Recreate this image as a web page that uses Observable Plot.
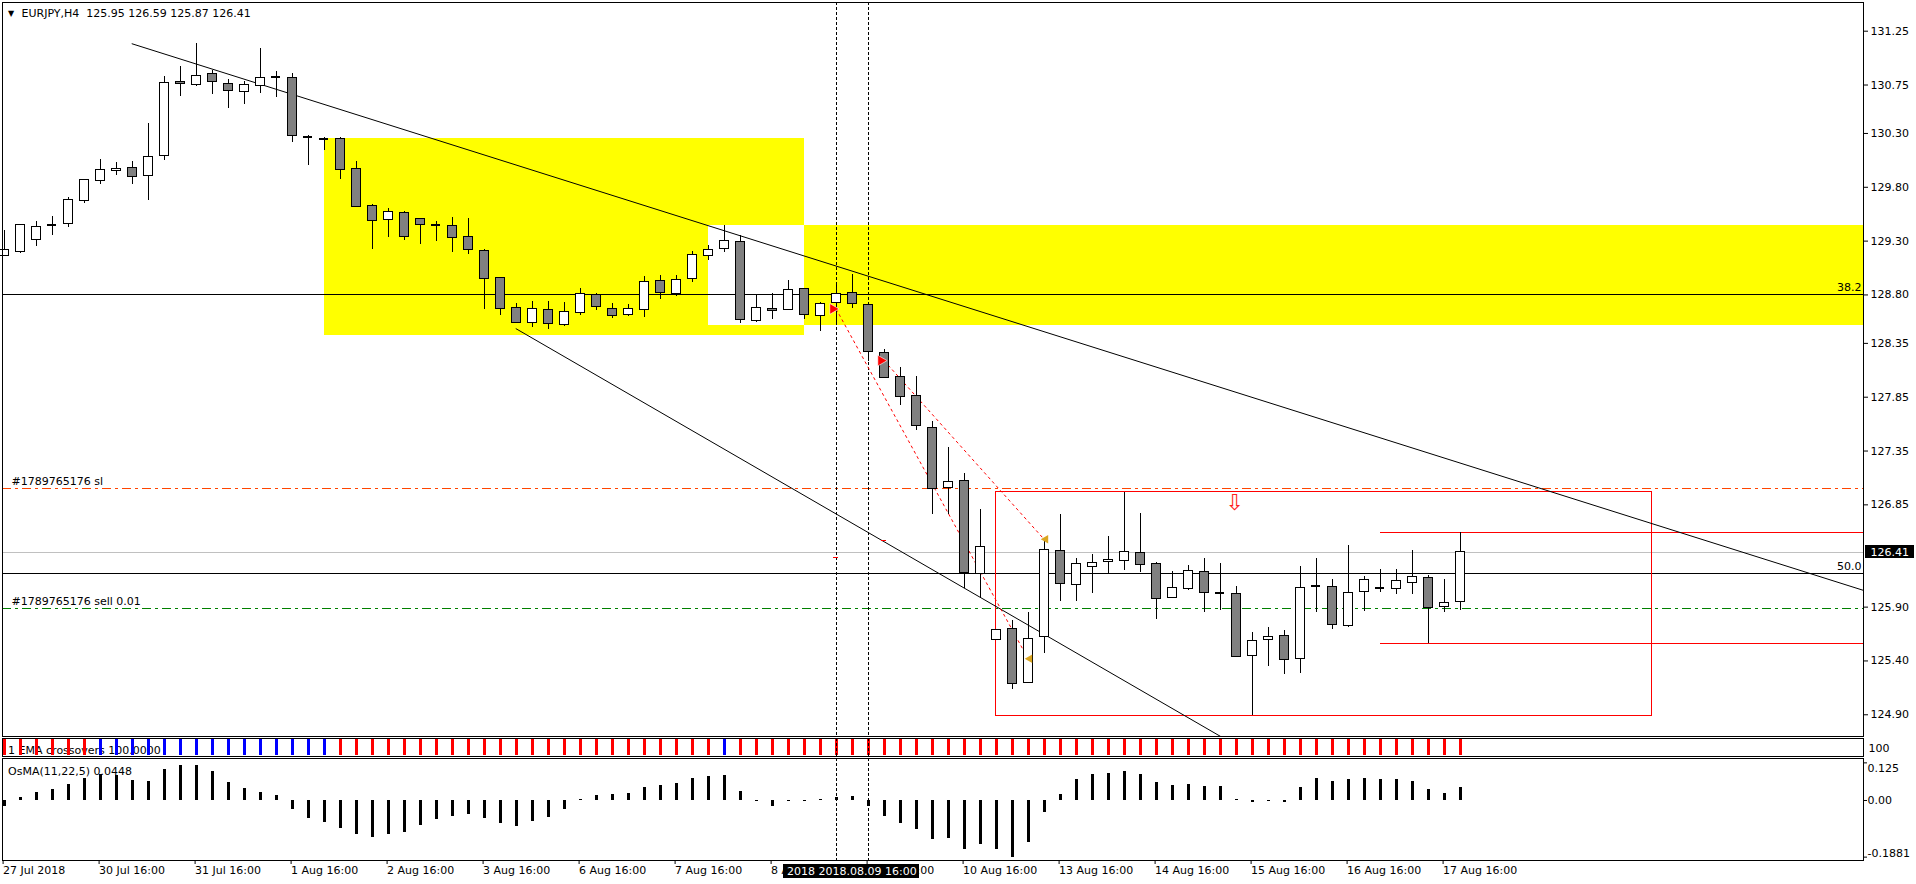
<!DOCTYPE html>
<html><head><meta charset="utf-8">
<script src="https://cdn.jsdelivr.net/npm/d3@7"></script>
<script src="https://cdn.jsdelivr.net/npm/@observablehq/plot@0.6"></script>
<style>
body{margin:0;background:#fff;}
#chart{position:relative;width:1916px;height:884px;overflow:hidden;background:#fff;}
#chart svg{position:absolute;left:0;}
</style></head><body><div id="chart"></div>
<script>
// ---------- DATA ----------
const symbolTitle = "EURJPY,H4  125.95 126.59 125.87 126.41";
const opens = [129.160,129.200,129.312,129.448,129.461,129.671,129.860,129.953,129.981,129.907,
130.089,130.780,130.752,130.854,130.761,130.687,130.743,130.826,130.817,130.263,
130.244,130.250,129.972,129.628,129.498,129.563,129.504,129.448,129.439,129.340,
129.210,128.959,128.677,128.541,128.661,128.518,128.634,128.800,128.670,128.614,
128.661,128.929,128.807,128.949,129.162,129.228,129.291,128.558,128.670,128.661,
128.856,128.604,128.727,128.817,128.707,128.259,128.036,127.860,127.561,127.007,
127.070,126.210,125.596,125.698,125.197,125.624,126.423,126.107,126.274,126.321,
126.330,126.404,126.302,125.986,126.070,126.228,126.027,126.024,125.448,125.596,
125.633,125.420,126.095,126.088,125.726,126.042,126.079,126.070,126.126,126.172,
125.903,125.95];
const highs = [129.399,129.451,129.482,129.529,129.702,129.869,130.058,130.030,130.040,130.393,
130.826,130.922,131.136,130.882,130.801,130.786,131.089,130.873,130.854,130.278,
130.266,130.266,130.040,129.643,129.603,129.572,129.504,129.482,129.516,129.507,
129.225,128.959,128.717,128.737,128.737,128.727,128.860,128.810,128.720,128.707,
128.969,128.979,128.979,129.208,129.258,129.441,129.354,128.800,128.810,128.933,
128.856,128.734,128.903,128.993,128.707,128.292,128.123,128.040,127.621,127.379,
127.140,126.808,125.689,125.776,125.847,126.507,126.757,126.349,126.386,126.556,
126.968,126.770,126.311,126.231,126.283,126.349,126.302,126.088,125.661,125.708,
125.680,126.274,126.349,126.153,126.469,126.181,126.246,126.246,126.423,126.191,
126.154,126.59];
const lows = [129.160,129.182,129.253,129.355,129.430,129.653,129.829,129.913,129.829,129.680,
130.052,130.647,130.739,130.665,130.535,130.572,130.674,130.637,130.219,130.006,
130.145,129.876,129.619,129.225,129.337,129.309,129.266,129.300,129.191,129.173,
128.662,128.611,128.534,128.495,128.481,128.504,128.611,128.651,128.578,128.597,
128.587,128.760,128.790,128.916,129.122,129.195,128.534,128.548,128.574,128.651,
128.568,128.461,128.528,128.677,128.179,128.020,127.774,127.545,126.761,126.761,
126.071,125.991,125.596,125.132,125.187,125.466,125.955,125.955,126.030,126.209,
126.243,126.225,125.788,125.977,126.051,125.847,125.866,125.429,124.893,125.345,
125.271,125.280,125.847,125.689,125.708,125.856,126.033,126.014,126.014,125.559,
125.847,125.87];
const closes = [129.213,129.451,129.433,129.448,129.684,129.869,129.962,129.972,129.897,130.083,
130.770,130.761,130.835,130.777,130.696,130.752,130.817,130.826,130.278,130.263,
130.244,129.962,129.619,129.488,129.572,129.340,129.451,129.448,129.331,129.219,
128.950,128.671,128.544,128.670,128.528,128.641,128.810,128.687,128.604,128.670,
128.920,128.817,128.939,129.172,129.218,129.301,128.568,128.680,128.651,128.846,
128.614,128.714,128.807,128.717,128.269,128.030,127.850,127.581,127.000,127.060,
126.213,126.459,125.689,125.187,125.605,126.432,126.116,126.302,126.311,126.339,
126.414,126.293,125.977,126.079,126.237,126.033,126.027,125.438,125.587,125.624,
125.410,126.079,126.095,125.735,126.033,126.154,126.079,126.144,126.181,125.893,
125.940,126.41];
const osmaValues = [-0.019,0.009,0.027,0.037,0.053,0.073,0.086,0.082,0.066,0.063,
0.103,0.116,0.116,0.096,0.060,0.040,0.027,0.017,-0.030,-0.060,
-0.073,-0.093,-0.113,-0.123,-0.113,-0.106,-0.083,-0.063,-0.053,-0.047,
-0.060,-0.076,-0.086,-0.070,-0.056,-0.030,0.002,0.017,0.020,0.023,
0.043,0.050,0.056,0.073,0.080,0.083,0.030,-0.002,-0.019,-0.004,
-0.004,0.002,0.011,0.013,-0.019,-0.053,-0.076,-0.096,-0.130,-0.126,
-0.163,-0.146,-0.163,-0.1881,-0.140,-0.040,0.020,0.070,0.086,0.090,
0.096,0.086,0.060,0.050,0.053,0.047,0.047,0.002,-0.007,-0.003,
-0.007,0.043,0.073,0.063,0.070,0.073,0.070,0.070,0.063,0.037,
0.023,0.0448];
// 1 = bullish crossover state (blue), -1 = bearish (red)
const emaSignal = [-1,-1,-1,-1,-1,-1,1,1,1,1,
1,1,1,1,1,1,1,1,1,1,
1,-1,-1,-1,-1,-1,-1,-1,-1,-1,
-1,-1,-1,-1,-1,-1,-1,-1,-1,-1,
-1,-1,-1,-1,-1,1,-1,-1,-1,-1,
-1,-1,-1,-1,-1,-1,-1,-1,-1,-1,
-1,-1,-1,-1,-1,-1,-1,-1,-1,-1,
-1,-1,-1,-1,-1,-1,-1,-1,-1,-1,
-1,-1,-1,-1,-1,-1,-1,-1,-1,-1,
-1,-1];
const timeTickBars = [0,6,12,18,24,30,36,42,48,54,60,66,72,78,84,90];
const timeTickLabels = ["27 Jul 2018","30 Jul 16:00","31 Jul 16:00","1 Aug 16:00","2 Aug 16:00","3 Aug 16:00","6 Aug 16:00","7 Aug 16:00","8 Aug 16:00","9 Aug 16:00","10 Aug 16:00","13 Aug 16:00","14 Aug 16:00","15 Aug 16:00","16 Aug 16:00","17 Aug 16:00"];
const priceTicks = [131.25,130.75,130.30,129.80,129.30,128.80,128.35,127.85,127.35,126.85,125.90,125.40,124.90];
const currentPrice = 126.41;
const osmaTicks = [0.125, 0, -0.1881];
const osmaTickLabels = ["0.125","0.00","-0.1881"];
const emaLabel = "1 EMA crossovers 100.0000";
const emaAxisLabel = "100";
const osmaLabel = "OsMA(11,22,5) 0.0448";
const fibLevels = [{level:"38.2", price:128.80},{level:"50.0", price:126.21}];
const orderLines = [{label:"#1789765176 sl", price:127.00, kind:"sl"},{label:"#1789765176 sell 0.01", price:125.885, kind:"entry"}];
const zones = [{x1:20, x2:50, y1:128.426, y2:130.253},{x1:44, x2:200, y1:128.518, y2:129.444}];
const trendLines = [
  {id:"upper", x:8, y:131.133},{id:"upper", x:116.2, y:126.056},
  {id:"lower", x:32, y:128.486},{id:"lower", x:76.13, y:124.69}
];
const trades = [{x1:52, y1:128.67, x2:64, y2:125.42},{x1:55, y1:128.19, x2:65, y2:126.53}];
const tradeStops = [{x:52, y:126.363},{x:55, y:126.519}];
const rangeBox = {x1:62, x2:103, y1:124.893, y2:126.974};
const rangeLevels = [{from:86, price:126.59},{from:86, price:125.56}];
const sellArrow = {x:76.9, y:126.87};
const crossBars = [52, 54];
const crossLabel = {bar:54, text:"2018 2018.08.09 16:00"};

// ---------- LAYOUT / STYLE ----------
const W = 1916;
const PX_PER_BAR = 16;
const PX_PER_PRICE = 107.65;
const PX_PER_OSMA = 301;
const X_DOMAIN = [-0.1, 116.2125];
const MAIN_Y = [124.6982, 131.5166];
const OSMA_Y = [-0.1993, 0.1395];
const FONT = '"DejaVu Sans", Verdana, sans-serif';
const COLORS = {bull:"#ffffff", bear:"#808080", zone:"#ffff00", sl:"#ff4500", entry:"#008000", bid:"#c0c0c0", red:"#ff0000", blue:"#0000ff", marker:"#daa520"};
const DASHDOT = "9,4,3,4";
const CRISP = {shapeRendering: "crispEdges"};
const base = {width: W, marginLeft: 2, marginRight: 53,
  style: {fontFamily: FONT, fontSize: "11px", color: "#000", background: "#fff", overflow: "visible"},
  color: {type: "identity"}};

const bars = opens.map((o, i) => ({i, o, h: highs[i], l: lows[i], c: closes[i]}));
const bodies = bars.filter(d => Math.abs(d.o - d.c) > 0.004);
const dojis = bars.filter(d => Math.abs(d.o - d.c) <= 0.004);
const hb = 4.5 / PX_PER_BAR;
const overlap = {
  x1: Math.max(zones[0].x1, zones[1].x1), x2: Math.min(zones[0].x2, zones[1].x2),
  y1: Math.max(zones[0].y1, zones[1].y1), y2: Math.min(zones[0].y2, zones[1].y2)
};
const chart = document.getElementById("chart");

// ---------- MAIN PRICE PANEL ----------
const main = Plot.plot({
  ...base, height: 737, marginTop: 2, marginBottom: 1,
  x: {domain: X_DOMAIN, axis: null},
  y: {domain: MAIN_Y},
  marks: [
    Plot.rect(zones, {x1:"x1", x2:"x2", y1:"y1", y2:"y2", fill: COLORS.zone, clip: true, ...CRISP}),
    Plot.rect([overlap], {x1:"x1", x2:"x2", y1:"y1", y2:"y2", fill: "#fff", clip: true, ...CRISP}),
    Plot.ruleY([currentPrice], {stroke: COLORS.bid, ...CRISP}),
    Plot.ruleY(fibLevels, {y: "price", stroke: "#000", ...CRISP}),
    Plot.ruleY(orderLines, {y: "price", stroke: d => d.kind === "sl" ? COLORS.sl : COLORS.entry, strokeDasharray: DASHDOT, ...CRISP}),
    Plot.rect([rangeBox], {x1:"x1", x2:"x2", y1:"y1", y2:"y2", fill: "none", stroke: COLORS.red, clip: true, ...CRISP}),
    Plot.ruleY(rangeLevels, {y: "price", x1: "from", x2: X_DOMAIN[1], stroke: COLORS.red, ...CRISP}),
    Plot.line(trendLines, {x: "x", y: "y", z: "id", stroke: "#000", strokeWidth: 1, clip: true}),
    Plot.ruleX(crossBars, {x: d => d, stroke: "#000", strokeDasharray: "3,2", ...CRISP}),
    Plot.link(trades, {x1:"x1", y1:"y1", x2:"x2", y2:"y2", stroke: COLORS.red, strokeDasharray: "3,3"}),
    Plot.ruleY(tradeStops, {y: "y", x1: d => d.x - 0.15, x2: d => d.x + 0.15, stroke: COLORS.red, ...CRISP}),
    Plot.ruleX(bars, {x: "i", y1: "l", y2: "h", stroke: "#000", ...CRISP}),
    Plot.rect(bodies, {x1: d => d.i - hb, x2: d => d.i + hb, y1: "o", y2: "c",
      fill: d => d.c >= d.o ? COLORS.bull : COLORS.bear, stroke: "#000", strokeWidth: 1, ...CRISP}),
    Plot.ruleY(dojis, {y: "o", x1: d => d.i - hb, x2: d => d.i + hb, stroke: "#000", strokeWidth: 2, ...CRISP}),
    Plot.dot(trades, {x: d => d.x1 - 0.2, y: "y1", symbol: "triangle", rotate: 90, r: 4, fill: COLORS.red, stroke: "#fff", strokeWidth: 0.6}),
    Plot.dot(trades, {x: d => d.x2 + 0.1, y: "y2", symbol: "triangle", rotate: -90, r: 3.2, fill: COLORS.marker}),
    Plot.text([sellArrow], {x: "x", y: "y", text: () => "\u21E9", fill: "#ff2020", fontSize: 22}),
    Plot.text(fibLevels, {y: "price", text: "level", frameAnchor: "right", dx: -2, dy: -7, textAnchor: "end", fill: "#000"}),
    Plot.text(orderLines, {y: "price", text: "label", frameAnchor: "left", dx: 9, dy: -7, textAnchor: "start", fill: "#000"}),
    Plot.text([symbolTitle], {text: d => d, frameAnchor: "top-left", dx: 19, dy: 10.7, textAnchor: "start", lineAnchor: "middle", fill: "#000"}),
    Plot.text(["\u25BC"], {text: d => d, frameAnchor: "top-left", dx: 8.5, dy: 11, textAnchor: "middle", lineAnchor: "middle", fontSize: 8, fill: "#000"}),
    Plot.frame({stroke: "#000", ...CRISP}),
    Plot.axisY(priceTicks, {anchor: "right", label: null, tickSize: 4, tickPadding: 3, tickFormat: d => d.toFixed(2), fontSize: 11}),
    Plot.rect([currentPrice], {x1: X_DOMAIN[1] + 2 / PX_PER_BAR, x2: X_DOMAIN[1] + 51 / PX_PER_BAR,
      y1: d => d - 6.5 / PX_PER_PRICE, y2: d => d + 6.5 / PX_PER_PRICE, fill: "#000", ...CRISP}),
    Plot.text([currentPrice], {y: d => d, text: d => d.toFixed(2), frameAnchor: "right", dx: 7, textAnchor: "start", fill: "#fff"})
  ]
});
main.style.top = "0px";
chart.appendChild(main);

// ---------- EMA CROSSOVER PANEL ----------
const emaData = emaSignal.map((s, i) => ({i, s}));
const ema = Plot.plot({
  ...base, height: 20, marginTop: 1, marginBottom: 1,
  x: {domain: X_DOMAIN, axis: null},
  y: {domain: [0, 1], axis: null},
  marks: [
    Plot.text([emaLabel], {text: d => d, frameAnchor: "left", dx: 5.6, dy: 3, textAnchor: "start", fill: "#000"}),
    Plot.ruleX(emaData, {x: "i", y1: 0.04, y2: 0.93, stroke: d => d.s > 0 ? COLORS.blue : COLORS.red, strokeWidth: 3, ...CRISP}),
    Plot.ruleX(crossBars, {x: d => d, stroke: "#000", strokeDasharray: "3,2", ...CRISP}),
    Plot.frame({stroke: "#000", ...CRISP}),
    Plot.text([emaAxisLabel], {text: d => d, frameAnchor: "right", dx: 5, dy: 0.7, textAnchor: "start", fill: "#000"})
  ]
});
ema.style.top = "737px";
chart.appendChild(ema);

// ---------- OsMA PANEL + TIME AXIS ----------
const osmaData = osmaValues.map((v, i) => ({i, v}));
const labelMap = new Map(timeTickBars.map((b, k) => [b, timeTickLabels[k]]));
const osmaLabelDy = [6, 0, -4];
const osma = Plot.plot({
  ...base, height: 127, marginTop: 1, marginBottom: 24,
  x: {domain: X_DOMAIN},
  y: {domain: OSMA_Y, axis: null},
  marks: [
    Plot.ruleX(osmaData, {x: "i", y1: 0, y2: "v", stroke: "#000", strokeWidth: 3, ...CRISP}),
    Plot.ruleX(crossBars, {x: d => d, stroke: "#000", strokeDasharray: "3,2", ...CRISP}),
    Plot.text([osmaLabel], {text: d => d, frameAnchor: "top-left", dx: 5.6, dy: 12.7, textAnchor: "start", lineAnchor: "middle", fill: "#000"}),
    Plot.frame({stroke: "#000", ...CRISP}),
    Plot.axisY(osmaTicks, {anchor: "right", label: null, tickSize: 3, tickFormat: () => ""}),
    ...osmaTicks.map((t, k) => Plot.text([t], {y: d => d, text: () => osmaTickLabels[k], frameAnchor: "right", dx: 4, dy: osmaLabelDy[k], textAnchor: "start", fill: "#000"})),
    Plot.axisX(timeTickBars, {anchor: "bottom", label: null, tickSize: 4, tickPadding: 2, tickFormat: d => labelMap.get(d), textAnchor: "start", dx: -1, fontSize: 11}),
    Plot.rect([crossLabel], {x1: d => d.bar - 84.7 / PX_PER_BAR, x2: d => d.bar + 51.5 / PX_PER_BAR,
      y1: () => OSMA_Y[0] - 4 / PX_PER_OSMA, y2: () => OSMA_Y[0] - 17.5 / PX_PER_OSMA, fill: "#000", ...CRISP}),
    Plot.text([crossLabel], {x: d => d.bar - 81 / PX_PER_BAR, y: () => OSMA_Y[0] - 11 / PX_PER_OSMA, text: "text", textAnchor: "start", fill: "#fff"})
  ]
});
osma.style.top = "757px";
chart.appendChild(osma);
</script>
</body></html>
